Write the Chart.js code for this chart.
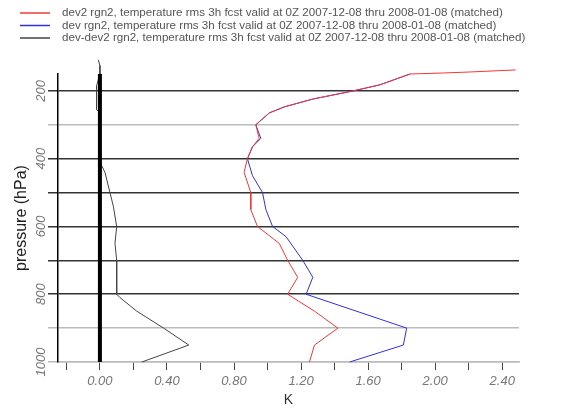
<!DOCTYPE html>
<html>
<head>
<meta charset="utf-8">
<script src="https://cdn.jsdelivr.net/npm/chart.js@4/dist/chart.umd.min.js"></script>
<style>
  html, body { margin: 0; padding: 0; background: #fff; }
  #wrap { width: 573px; height: 409px; }
</style>
</head>
<body>
<div id="wrap"><canvas id="rms"></canvas></div>
<script>
// pressure levels (hPa) and rms values (K)
const dev2P = [138, 144, 147, 150, 182, 200, 224, 247, 265, 300, 340, 365, 400, 440, 500, 550, 600, 650, 700, 750, 800, 850, 900, 950, 1000];
const dev2V = [2.48, 2.21, 2.05, 1.85, 1.67, 1.51, 1.27, 1.10, 1.01, 0.93, 0.95, 0.91, 0.88, 0.86, 0.90, 0.90, 0.94, 1.07, 1.12, 1.18, 1.12, 1.28, 1.42, 1.28, 1.25];

const devP = [150, 182, 200, 224, 247, 265, 300, 340, 365, 400, 450, 500, 550, 600, 630, 700, 750, 800, 900, 950, 1000];
const devV = [1.85, 1.67, 1.51, 1.27, 1.10, 1.01, 0.93, 0.96, 0.91, 0.88, 0.91, 0.97, 0.99, 1.03, 1.11, 1.21, 1.27, 1.23, 1.83, 1.81, 1.49];

const diffP = [108, 125, 150, 185, 200, 255, 265, 300, 400, 420, 440, 500, 540, 600, 650, 700, 800, 810, 850, 900, 950, 1000];
const diffV = [-0.01, 0.0, 0.0, -0.02, -0.02, -0.02, 0.0, 0.0, 0.0, 0.01, 0.03, 0.06, 0.08, 0.10, 0.09, 0.10, 0.10, 0.12, 0.22, 0.38, 0.53, 0.25];

// zero reference line
const zeroP = [150, 1000];
const zeroV = [0, 0];

const seriesLabels = [
  'dev2 rgn2, temperature rms 3h fcst valid at 0Z 2007-12-08 thru 2008-01-08 (matched)',
  'dev rgn2, temperature rms 3h fcst valid at 0Z 2007-12-08 thru 2008-01-08 (matched)',
  'dev-dev2 rgn2, temperature rms 3h fcst valid at 0Z 2007-12-08 thru 2008-01-08 (matched)'
];

const xTicks = [-0.2, 0, 0.2, 0.4, 0.6, 0.8, 1.0, 1.2, 1.4, 1.6, 1.8, 2.0, 2.2, 2.4];
const yTicks = [200, 300, 400, 500, 600, 700, 800, 900, 1000];
const greyLevels = [300, 900, 1000];

const pts = (ps, vs) => ps.map((p, i) => ({ x: vs[i], y: p }));
const FONT = '"Liberation Sans", Arial, sans-serif';

// legend drawn in the top band, one line per series
const topLegend = {
  id: 'topLegend',
  afterDraw(chart) {
    const ctx = chart.ctx;
    ctx.save();
    ctx.font = '11.6px ' + FONT;
    ctx.textBaseline = 'middle';
    let y = 13;
    chart.data.datasets.forEach(ds => {
      if (!ds.label) return;
      ctx.strokeStyle = ds.borderColor;
      ctx.lineWidth = 1.5;
      ctx.beginPath();
      ctx.moveTo(20, y);
      ctx.lineTo(50, y);
      ctx.stroke();
      ctx.fillStyle = '#555';
      ctx.fillText(ds.label, 62, y);
      y += 12.5;
    });
    ctx.restore();
  }
};

new Chart(document.getElementById('rms'), {
  type: 'line',
  data: {
    datasets: [
      { data: pts(zeroP, zeroV), borderColor: '#000', borderWidth: 4, pointRadius: 0 },
      { label: seriesLabels[0], data: pts(dev2P, dev2V), borderColor: '#f03838', borderWidth: 1, pointRadius: 0, clip: false },
      { label: seriesLabels[1], data: pts(devP, devV), borderColor: '#3030e0', borderWidth: 1, pointRadius: 0, clip: false },
      { label: seriesLabels[2], data: pts(diffP, diffV), borderColor: '#444', borderWidth: 1, pointRadius: 0, clip: false }
    ]
  },
  options: {
    responsive: true,
    maintainAspectRatio: false,
    animation: false,
    layout: { padding: { top: 74, right: 54, left: 0, bottom: 0 } },
    plugins: { legend: { display: false }, tooltip: { enabled: false } },
    scales: {
      x: {
        type: 'linear',
        min: -0.25,
        max: 2.5,
        afterBuildTicks: s => { s.ticks = xTicks.map(v => ({ value: v })); },
        afterFit: s => { s.height = 47; },
        border: { color: '#bbb', width: 1.5 },
        grid: { drawOnChartArea: false, drawTicks: true, tickLength: 8, color: '#444', lineWidth: 1 },
        ticks: {
          autoSkip: false,
          maxRotation: 0,
          padding: 4,
          color: '#777',
          font: { family: FONT, size: 13, style: 'italic' },
          callback: v => (Math.round(v * 10) % 4 === 0 ? v.toFixed(2) : '')
        },
        title: {
          display: true,
          text: 'K',
          color: '#333',
          padding: 0,
          font: { family: FONT, size: 14 }
        }
      },
      y: {
        type: 'linear',
        reverse: true,
        min: 150,
        max: 1000,
        afterBuildTicks: s => { s.ticks = yTicks.map(v => ({ value: v })); },
        afterFit: s => { s.width = 58; },
        border: { color: '#000', width: 1.5 },
        grid: {
          drawTicks: true,
          tickLength: 10,
          lineWidth: 1.5,
          color: c => (greyLevels.includes(c.tick && c.tick.value) ? '#bbb' : '#333')
        },
        ticks: {
          autoSkip: false,
          minRotation: 90,
          maxRotation: 90,
          crossAlign: 'center',
          padding: -8,
          color: '#777',
          font: { family: FONT, size: 13, style: 'italic' },
          callback: v => (v % 200 === 0 ? String(v) : '')
        },
        title: {
          display: true,
          text: 'pressure (hPa)',
          color: '#222',
          padding: { top: 12, bottom: 0 },
          font: { family: FONT, size: 16 }
        }
      }
    }
  },
  plugins: [topLegend]
});
</script>
</body>
</html>
